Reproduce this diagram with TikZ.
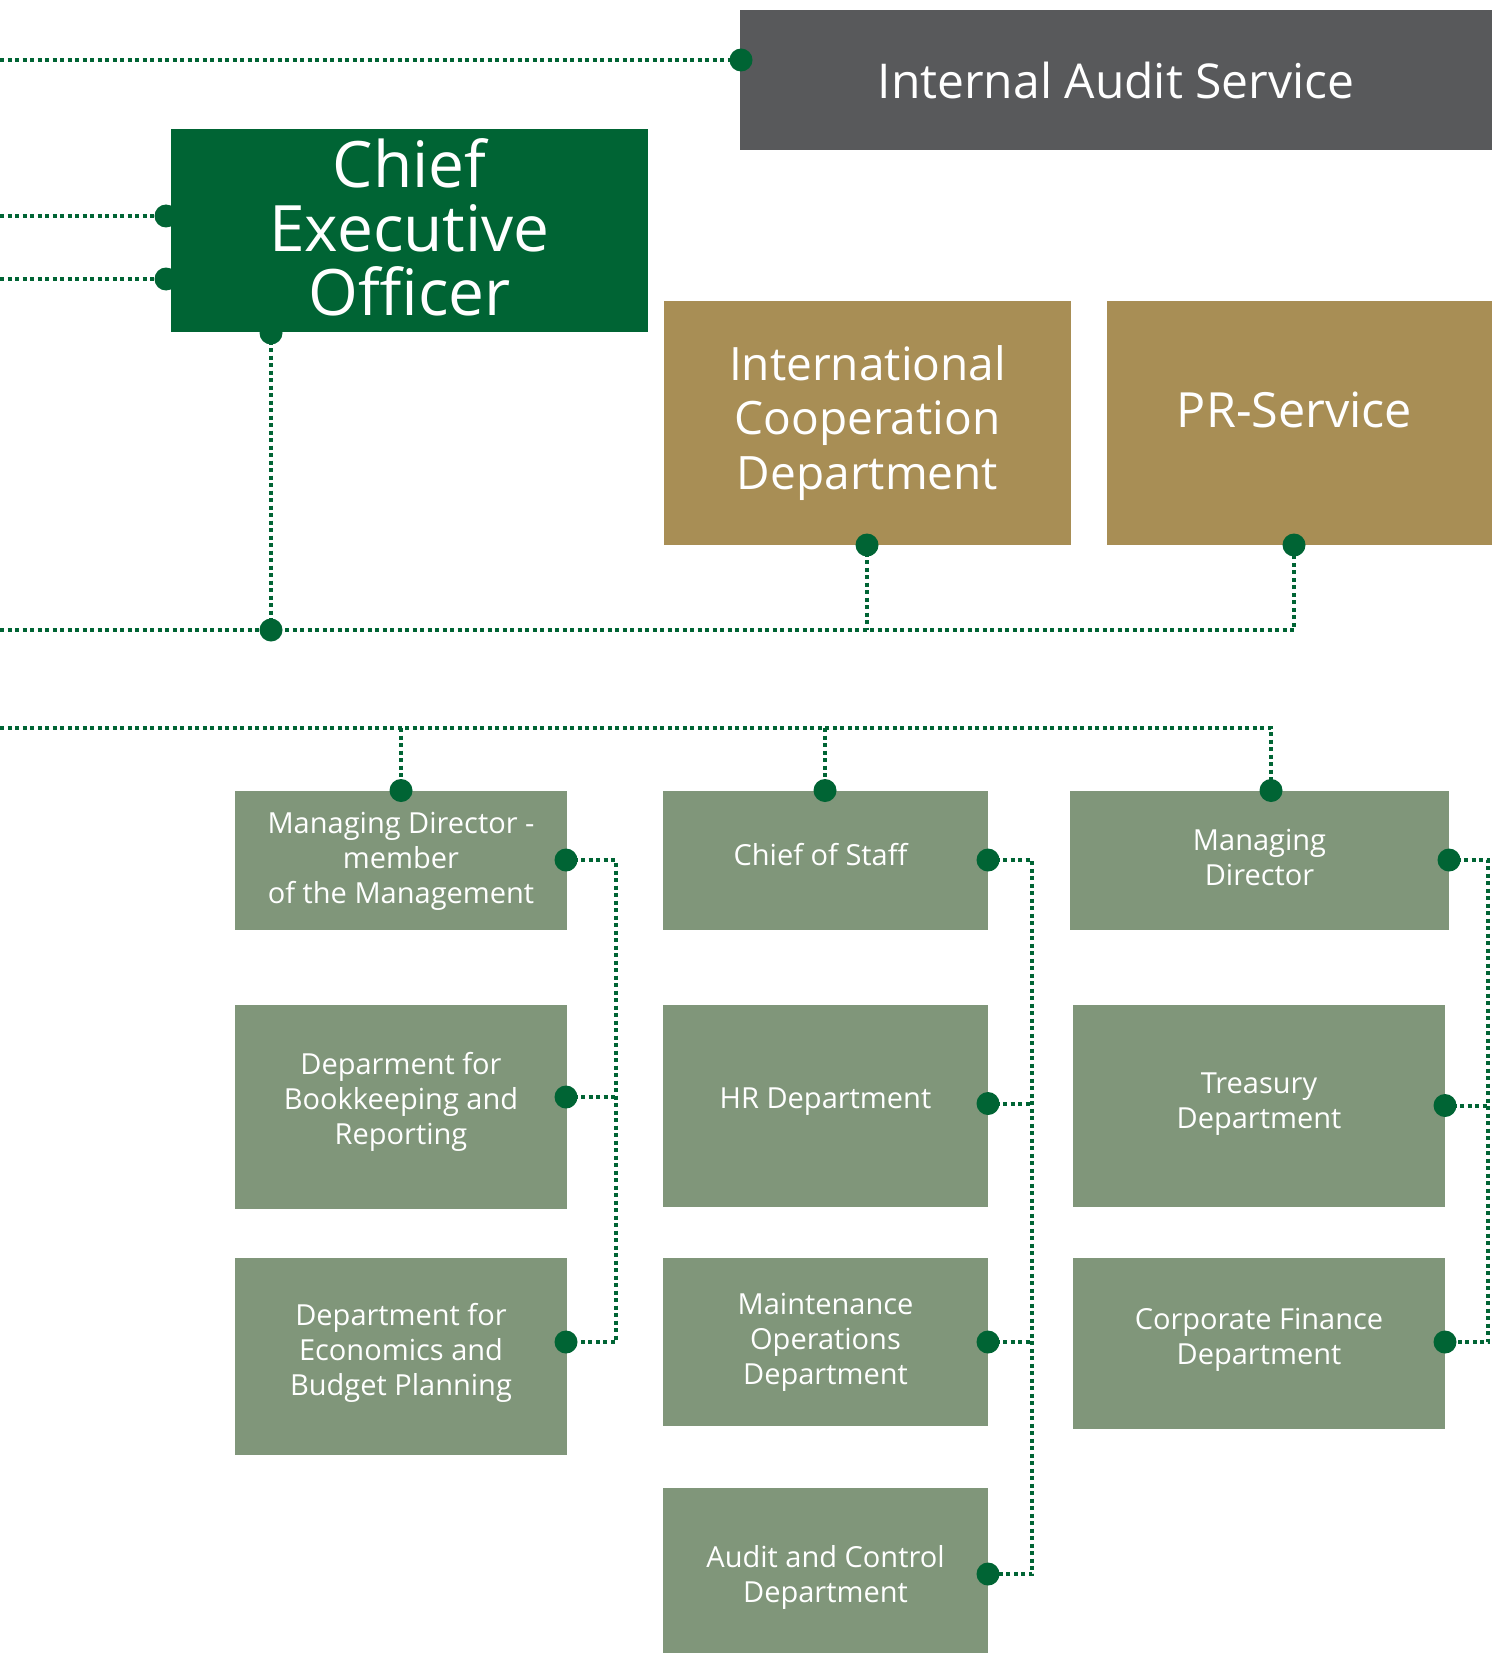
\documentclass[tikz,border=0pt]{standalone}
\usepackage{fontspec}
\setmainfont{Open Sans}
\definecolor{ceogreen}{RGB}{0,100,52}
\definecolor{auditgray}{RGB}{88,89,91}
\definecolor{goldbox}{RGB}{168,142,85}
\definecolor{sagebox}{RGB}{128,150,122}
\definecolor{dotgreen}{RGB}{0,100,52}
\begin{document}
\begin{tikzpicture}[x=1pt,y=-1pt,
  conn/.style={draw=dotgreen, line width=4pt, dash pattern=on 4pt off 3.5pt},
  boxbase/.style={anchor=north west, inner sep=0pt, outer sep=0pt, draw=none},
  lbl/.style={text=white, align=center, inner sep=0pt},
  graybox/.style={boxbase, fill=auditgray},
  ceobox/.style={boxbase, fill=ceogreen},
  goldbox/.style={boxbase, fill=goldbox},
  sagebox/.style={boxbase, fill=sagebox},
  bigtxt/.style={lbl, font=\fontsize{48}{56}\selectfont},
  ceotxt/.style={lbl, font=\fontsize{64}{64}\selectfont},
  goldtxt/.style={lbl, font=\fontsize{46}{54.5}\selectfont},
  prtxt/.style={lbl, font=\fontsize{48.5}{56}\selectfont},
  smalltxt/.style={lbl, font=\fontsize{29}{35}\selectfont}
]
\useasboundingbox (0,0) rectangle (1504,1653);

% ---------- boxes ----------
\node[graybox, minimum width=752pt, minimum height=140pt,
  label={[bigtxt]center:Internal Audit Service}] (aud) at (740,10.5) {};
\node[ceobox, minimum width=477pt, minimum height=203pt,
  label={[ceotxt, yshift=3pt]center:Chief\\Executive\\Officer}] (ceo) at (171,129) {};
\node[goldbox, minimum width=407pt, minimum height=244pt,
  label={[goldtxt, yshift=0pt]center:International\\Cooperation\\Department}] (icd) at (664,301) {};
\node[goldbox, minimum width=385pt, minimum height=244pt,
  label={[prtxt, yshift=13pt, xshift=-5pt]center:PR-Service}] (pr) at (1107,301) {};

\node[sagebox, minimum width=332pt, minimum height=139pt,
  label={[smalltxt, yshift=-1pt]center:Managing Director -\\member\\of the Management}] (md1) at (235,790.5) {};
\node[sagebox, minimum width=332pt, minimum height=204pt,
  label={[smalltxt, yshift=5pt]center:Deparment for\\Bookkeeping and\\Reporting}] (bk) at (235,1004.5) {};
\node[sagebox, minimum width=332pt, minimum height=197pt,
  label={[smalltxt, yshift=3pt]center:Department for\\Economics and\\Budget Planning}] (ec) at (235,1257.5) {};

\node[sagebox, minimum width=325pt, minimum height=139pt,
  label={[smalltxt, yshift=5pt, xshift=-5pt]center:Chief of Staff}] (cos) at (663,790.5) {};
\node[sagebox, minimum width=325pt, minimum height=202.5pt,
  label={[smalltxt, yshift=4pt]center:HR Department}] (hr) at (663,1004.5) {};
\node[sagebox, minimum width=325pt, minimum height=168.5pt,
  label={[smalltxt, yshift=-1pt]center:Maintenance\\Operations\\Department}] (mo) at (663,1257.5) {};
\node[sagebox, minimum width=325pt, minimum height=170pt,
  label={[smalltxt, yshift=-4pt]center:Audit and Control\\Department}] (ac) at (663,1488) {};

\node[sagebox, minimum width=379pt, minimum height=139pt,
  label={[smalltxt, yshift=3pt]center:Managing\\Director}] (md3) at (1070,790.5) {};
\node[sagebox, minimum width=372pt, minimum height=202.5pt,
  label={[smalltxt, yshift=2pt]center:Treasury\\Department}] (tr) at (1073,1004.5) {};
\node[sagebox, minimum width=372pt, minimum height=171.5pt,
  label={[smalltxt, yshift=3pt]center:Corporate Finance\\Department}] (cf) at (1073,1257.5) {};

% ---------- coordinates ----------
\coordinate (L1) at (0,60);
\coordinate (L2) at (0,216);
\coordinate (L3) at (0,279);
\coordinate (L4) at (0,630);
\coordinate (L5) at (0,728);
\coordinate (aud-d) at (741,60);
\coordinate (ceo-d1) at (166,216);
\coordinate (ceo-d2) at (166,279);
\coordinate (ceo-b) at (271,333);
\coordinate (ceo-j) at (271,630);
\coordinate (icd-b) at (867,545);
\coordinate (pr-b) at (1294,545);
\coordinate (md1-t) at (401,790.5);
\coordinate (cos-t) at (825,790.5);
\coordinate (md3-t) at (1271,790.5);
\coordinate (md1-r) at (566,860);
\coordinate (bk-r) at (566,1097);
\coordinate (ec-r) at (566,1342);
\coordinate (cos-r) at (988,860);
\coordinate (hr-r) at (988,1103.5);
\coordinate (mo-r) at (988,1342);
\coordinate (ac-r) at (988,1574);
\coordinate (md3-r) at (1449,860);
\coordinate (tr-r) at (1445,1105.5);
\coordinate (cf-r) at (1445,1342);
\coordinate (bus1) at (615.5,0);
\coordinate (bus2) at (1032,0);
\coordinate (bus3) at (1488,0);

% ---------- connectors ----------
\draw[conn] (L1) -- (aud-d);
\draw[conn] (L2) -- (ceo-d1);
\draw[conn] (L3) -- (ceo-d2);
\draw[conn] (ceo-b) -- (ceo-j);
\draw[conn] (L4) -- (pr-b |- L4) -- (pr-b);
\draw[conn] (icd-b) -- (icd-b |- L4);
\draw[conn] (L5) -- (md3-t |- L5) -- (md3-t);
\draw[conn] (md1-t |- L5) -- (md1-t);
\draw[conn] (cos-t |- L5) -- (cos-t);

\draw[conn] (md1-r) -- (md1-r -| bus1) -- (ec-r -| bus1) -- (ec-r);
\draw[conn] (bk-r) -- (bk-r -| bus1);
\draw[conn] (cos-r) -- (cos-r -| bus2) -- (ac-r -| bus2) -- (ac-r);
\draw[conn] (hr-r) -- (hr-r -| bus2);
\draw[conn] (mo-r) -- (mo-r -| bus2);
\draw[conn] (md3-r) -- (md3-r -| bus3) -- (cf-r -| bus3) -- (cf-r);
\draw[conn] (tr-r) -- (tr-r -| bus3);

% ---------- dots ----------
\foreach \p in {aud-d,ceo-d1,ceo-d2,ceo-b,ceo-j,icd-b,pr-b,md1-t,cos-t,md3-t,
  md1-r,bk-r,ec-r,cos-r,hr-r,mo-r,ac-r,md3-r,tr-r,cf-r}
  \fill[dotgreen] (\p) circle (11.5pt);
\end{tikzpicture}
\end{document}
